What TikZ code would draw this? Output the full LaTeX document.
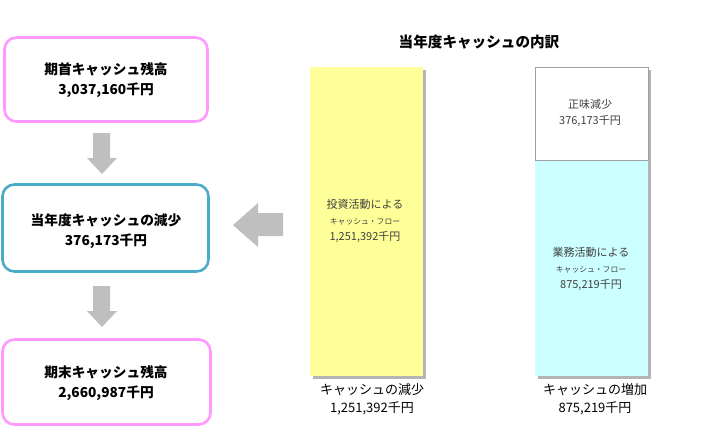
\documentclass[tikz,border=0pt]{standalone}
\usepackage{fontspec}
\setmainfont{Noto Sans CJK JP}
\newcommand\smallkana{\fontsize{7.8}{16}\selectfont}
\begin{document}
\begin{tikzpicture}[x=1pt,y=-1pt,
  every node/.style={inner sep=0pt},
  pinkbox/.style={draw=boxpink,line width=2.6pt,rounded corners=12pt,fill=white},
  tealbox/.style={draw=boxteal,line width=2.6pt,rounded corners=12pt,fill=white},
  boxtext/.style={font=\bfseries\fontsize{13.7}{20}\selectfont,align=center},
  bartext/.style={text=bartxt,align=center,font=\fontsize{11}{16}\selectfont},
  labeltext/.style={align=center,font=\fontsize{13}{18}\selectfont},
  blockarrow/.style={fill=arrowgray,draw=none},
  shadow/.style={fill=shadowgray,draw=none}
]
\definecolor{boxpink}{HTML}{FF99FF}
\definecolor{boxteal}{HTML}{4BACC6}
\definecolor{arrowgray}{HTML}{BFBFBF}
\definecolor{shadowgray}{HTML}{B4B4B4}
\definecolor{baryellow}{HTML}{FFFF99}
\definecolor{barcyan}{HTML}{CCFFFF}
\definecolor{bartxt}{HTML}{404040}
\definecolor{framegray}{HTML}{A0A0A0}
\useasboundingbox[fill=white] (0,0) rectangle (719,429);

% left boxes
\node[pinkbox,minimum width=203pt,minimum height=84pt] (b1) at (106,79.5) {};
\node[boxtext] (t1) at (106,80) {期首キャッシュ残高\\3,037,160千円};
\node[tealbox,minimum width=206pt,minimum height=87pt] (b2) at (105.5,228) {};
\node[boxtext] (t2) at (106,231) {当年度キャッシュの減少\\376,173千円};
\node[pinkbox,minimum width=208pt,minimum height=85pt] (b3) at (106.5,382) {};
\node[boxtext] (t3) at (106,383) {期末キャッシュ残高\\2,660,987千円};

% down arrows
\fill[blockarrow] (93,133) -- (110,133) -- (110,158) -- (117,158) -- (102,174) -- (87,158) -- (93,158) -- cycle;
\fill[blockarrow] (93,286) -- (110,286) -- (110,311) -- (117,311) -- (102,327) -- (87,311) -- (93,311) -- cycle;
% left arrow
\fill[blockarrow] (283,213) -- (258,213) -- (258,203) -- (233,225) -- (258,247) -- (258,236) -- (283,236) -- cycle;

% title
\node[font=\bfseries\fontsize{14.6}{16}\selectfont] (title) at (479,42) {当年度キャッシュの内訳};

% bars: shadows
\fill[shadow] (313,70) rectangle (426,379);
\fill[shadow] (538,70) rectangle (651,379);
% yellow bar
\fill[baryellow] (310,67) rectangle (423,376);
% white + cyan
\fill[barcyan] (535,160) rectangle (648,376);
\draw[framegray,fill=white,line width=0.8pt] (535,67) rectangle (648,160);

\node[bartext] (yt) at (365,221) {投資活動による\\{\smallkana キャッシュ・フロー}\\1,251,392千円};
\node[bartext] (wt) at (590,113) {正味減少\\376,173千円};
\node[bartext] (ct) at (591,269) {業務活動による\\{\smallkana キャッシュ・フロー}\\875,219千円};

% labels
\node[labeltext] (l1) at (372,399) {キャッシュの減少\\1,251,392千円};
\node[labeltext] (l2) at (595,399) {キャッシュの増加\\875,219千円};
\end{tikzpicture}
\end{document}
